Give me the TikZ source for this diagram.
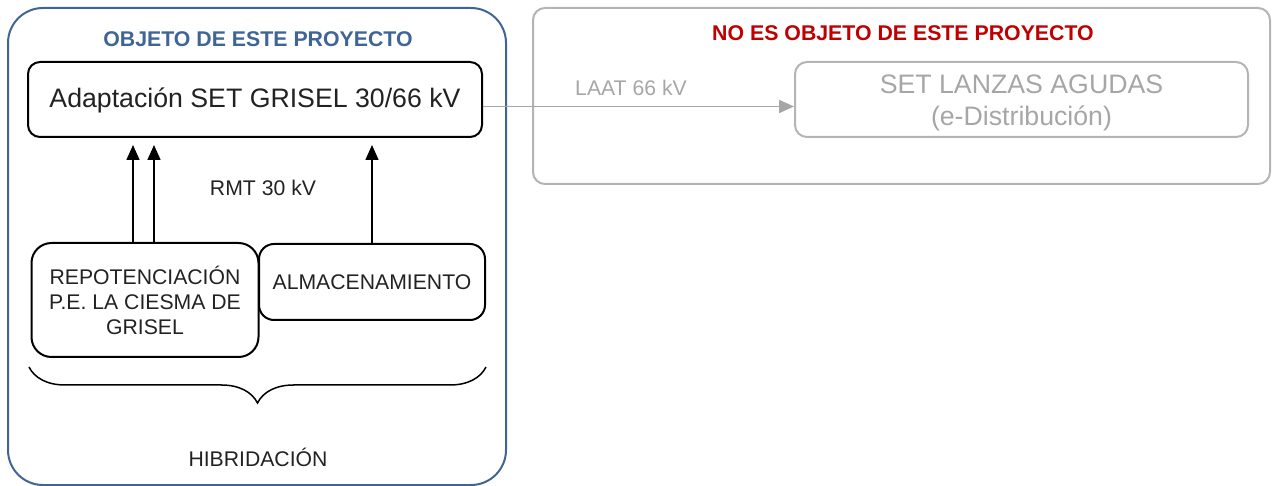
\documentclass[tikz,border=0pt]{standalone}
\usepackage{fontspec}
\setmainfont{Liberation Sans}
\usetikzlibrary{arrows.meta,decorations.pathreplacing,calc}
\definecolor{projblue}{HTML}{3F6598}
\definecolor{txtblack}{HTML}{222222}
\definecolor{nored}{HTML}{C00000}
\definecolor{gline}{HTML}{B4B4B4}
\definecolor{gtext}{HTML}{A6A6A6}
\newcommand\setfs[2]{\fontsize{#1}{#2}\selectfont}
\begin{document}
\begin{tikzpicture}[x=1pt,y=-1pt,
  container/.style={draw=projblue,line width=2pt,rounded corners=35pt,inner sep=0pt},
  graycontainer/.style={draw=gline,line width=2pt,rounded corners=12pt,inner sep=0pt},
  titlestyle/.style={font=\setfs{21.3}{25}\bfseries,inner sep=0pt},
  blackbox/.style={draw=black,line width=2pt,text=txtblack,inner sep=0pt,align=center},
  graybox/.style={draw=gline,line width=2pt,text=gtext,inner sep=0pt,align=center,rounded corners=12pt},
  lbl/.style={font=\setfs{21.2}{25},inner sep=0pt},
  arr/.style={-{Triangle[length=15pt,width=13pt]},line width=1.6pt,draw=black,shorten >=7pt},
  grayarr/.style={-{Triangle[length=15pt,width=13pt]},line width=1.9pt,draw=gtext},
  bracestyle/.style={decorate,decoration={brace,mirror,amplitude=36pt},line width=1.5pt,draw=black}
]
\useasboundingbox (0,0) rectangle (1275,486);

% left container
\node[container,minimum width=498pt,minimum height=477pt] (objeto) at (257,246.5) {};
\node[titlestyle,text=projblue] (tobj) at (258,39.5) {OBJETO DE ESTE PROYECTO};

\node[blackbox,rounded corners=12pt,minimum width=454pt,minimum height=75pt,font=\setfs{26.7}{30}] (adapt) at (255,99.5) {\rule{0pt}{22pt}Adaptación SET GRISEL 30/66 kV};

\node[blackbox,rounded corners=20pt,minimum width=227pt,minimum height=114pt,font=\setfs{21.2}{25}] (repo) at (145,300) {REPOTENCIACIÓN\\P.E. LA CIESMA DE\\GRISEL};
\node[blackbox,rounded corners=15pt,minimum width=226pt,minimum height=76pt,font=\setfs{21.2}{25}] (alma) at (372,282) {ALMACENAMIENTO};

\node[lbl,text=txtblack] (rmt) at (263,188) {RMT 30 kV};

\coordinate (a1) at ([xshift=-12pt]repo.north);
\coordinate (a2) at ([xshift=9pt]repo.north);
\draw[arr] (a1) -- (a1 |- adapt.south);
\draw[arr] (a2) -- (a2 |- adapt.south);
\draw[arr] (alma.north) -- (alma.north |- adapt.south);

\coordinate (brl) at (29,367);
\coordinate (brr) at (486,367);
\draw[bracestyle] (brl) -- (brr);
\node[lbl,text=txtblack] (hib) at (258,457) {HIBRIDACIÓN};

% right container
\node[graycontainer,minimum width=737pt,minimum height=176pt] (noobj) at (901.5,96) {};
\node[titlestyle,text=nored] (tnoobj) at (903,33) {NO ES OBJETO DE ESTE PROYECTO};
\node[graybox,minimum width=453pt,minimum height=75pt,font=\setfs{26.7}{32}] (lanzas) at (1021.5,99.5) {\rule{0pt}{25.5pt}SET LANZAS AGUDAS\\(e-Distribución)};
\node[lbl,text=gtext] (laat) at (631,88) {LAAT 66 kV};

\draw[grayarr] ([yshift=-7pt]adapt.east) -- ([yshift=-7pt]lanzas.west);
\end{tikzpicture}
\end{document}
